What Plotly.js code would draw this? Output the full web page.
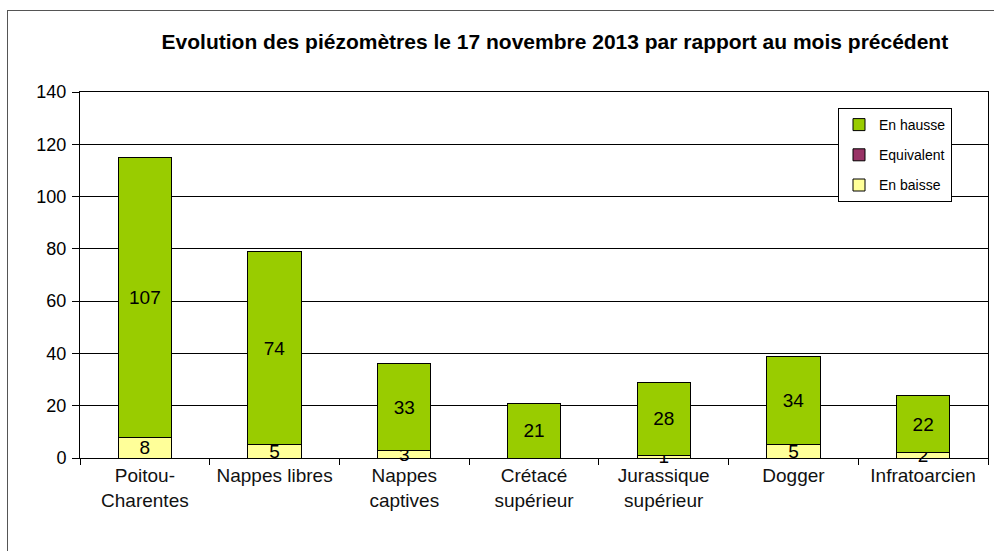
<!DOCTYPE html>
<html>
<head>
<meta charset="utf-8">
<script src="https://cdn.plot.ly/plotly-3.0.1.min.js"></script>
<style>
html,body{margin:0;padding:0;background:#fff;}
#frame{position:absolute;left:7px;top:10px;width:1000px;height:560px;border:1px solid #555;box-sizing:border-box;}
#chart{position:absolute;left:0;top:0;width:994px;height:551px;}
</style>
</head>
<body>
<div id="frame"></div>
<div id="chart"></div>
<script>
const categories = ["Poitou-<br>Charentes", "Nappes libres", "Nappes<br>captives", "Crétacé<br>supérieur", "Jurassique<br>supérieur", "Dogger", "Infratoarcien"];
const enBaisse = [8, 5, 3, 0, 1, 5, 2];
const equivalent = [0, 0, 0, 0, 0, 0, 0];
const enHausse = [107, 74, 33, 21, 28, 34, 22];
const yTicks = [0, 20, 40, 60, 80, 100, 120, 140];

const lbl = arr => arr.map(v => v === 0 ? "" : String(v));
const font = "Liberation Sans, Arial, sans-serif";

function mk(name, vals, color, grp, rank) {
  return {
    type: "bar", name: name, x: categories, y: vals,
    marker: {color: color, line: {color: "#000", width: 1}},
    text: lbl(vals), textposition: "inside", insidetextanchor: "middle",
    textangle: 0, constraintext: "none", cliponaxis: false,
    textfont: {family: font, size: 19, color: "#000"},
    legendgroup: grp, legendrank: rank, hoverinfo: "skip"
  };
}

const data = [
  mk("En baisse", enBaisse, "#FFFF99", "c", 3),
  mk("Equivalent", equivalent, "#993366", "b", 2),
  mk("En hausse", enHausse, "#99CC00", "a", 1)
];

const layout = {
  width: 994, height: 551,
  margin: {l: 80, r: 6, t: 92, b: 93},
  paper_bgcolor: "rgba(0,0,0,0)", plot_bgcolor: "#fff",
  barmode: "stack", bargap: 0.59,
  showlegend: true,
  title: {
    text: "<b>Evolution des piézomètres le 17 novembre 2013 par rapport au mois précédent</b>",
    font: {family: font, size: 21, color: "#000"},
    xref: "paper", x: 0.523, xanchor: "center",
    yref: "container", y: 1 - 42/551, yanchor: "middle"
  },
  xaxis: {
    type: "category", showline: true, linecolor: "#000", linewidth: 1, mirror: true,
    ticks: "outside", tickson: "boundaries", ticklen: 6, tickcolor: "#000",
    tickfont: {family: font, size: 19, color: "#111"},
    showgrid: false, fixedrange: true
  },
  yaxis: {
    range: [0, 140], tickvals: yTicks, ticktext: yTicks.map(String),
    showline: true, linecolor: "#000", linewidth: 1, mirror: true,
    ticks: "outside", ticklen: 7, tickcolor: "#000", ticklabelstandoff: 2,
    showgrid: true, gridcolor: "#000", gridwidth: 1, zeroline: false,
    tickfont: {family: font, size: 18, color: "#000"}, fixedrange: true
  },
  legend: {
    x: (838-80)/908, y: 1 - (108-92)/366, xanchor: "left", yanchor: "top",
    bgcolor: "#fff", bordercolor: "#000", borderwidth: 1,
    font: {family: font, size: 14, color: "#000"},
    traceorder: "grouped", tracegroupgap: 9,
    itemwidth: 30
  }
};

Plotly.newPlot("chart", data, layout, {displayModeBar: false, staticPlot: true});
</script>
</body>
</html>
